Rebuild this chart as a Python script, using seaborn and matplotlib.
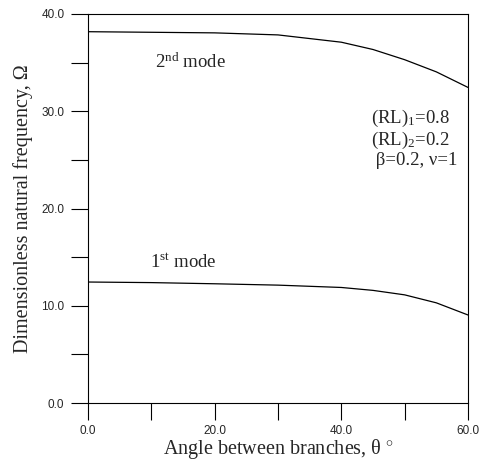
import matplotlib
matplotlib.use("Agg")
import matplotlib.pyplot as plt
import pandas as pd
import seaborn as sns
from matplotlib.ticker import MultipleLocator, FormatStrFormatter

# Data
angle = [0, 10, 20, 30, 40, 45, 50, 55, 60]
mode1 = [12.44, 12.38, 12.26, 12.12, 11.88, 11.58, 11.12, 10.3, 9.05]
mode2 = [38.18, 38.12, 38.06, 37.85, 37.1, 36.35, 35.3, 34.05, 32.45]

df = pd.DataFrame({"angle": angle * 2,
                   "omega": mode1 + mode2,
                   "mode": ["1st"] * len(angle) + ["2nd"] * len(angle)})

sns.set_theme(style="ticks")
plt.rcParams["font.family"] = ["Liberation Sans", "DejaVu Sans"]
plt.rcParams["mathtext.fontset"] = "custom"
plt.rcParams["mathtext.rm"] = "Liberation Serif"
plt.rcParams["mathtext.it"] = "Liberation Serif:italic"

fig = plt.figure(figsize=(4.8, 4.63), dpi=100)
ax = fig.add_axes([88 / 480, 60 / 463, 380 / 480, 389 / 463])

sns.lineplot(data=df, x="angle", y="omega", units="mode", estimator=None,
             color="black", linewidth=0.9, ax=ax, legend=False)

ax.set_xlim(0, 60)
ax.set_ylim(0, 40)
ax.xaxis.set_major_locator(MultipleLocator(20))
ax.xaxis.set_minor_locator(MultipleLocator(10))
ax.yaxis.set_major_locator(MultipleLocator(10))
ax.yaxis.set_minor_locator(MultipleLocator(5))
ax.xaxis.set_major_formatter(FormatStrFormatter("%.1f"))
ax.yaxis.set_major_formatter(FormatStrFormatter("%.1f"))
ax.tick_params(which="both", direction="out", length=12, width=0.8,
               labelsize=8.5, color="black")
ax.tick_params(axis="x", pad=4)
ax.tick_params(axis="y", pad=5)
for s in ax.spines.values():
    s.set_linewidth(0.8)
    s.set_color("black")

serif = ["Liberation Serif", "DejaVu Serif"]
ax.set_xlabel("Angle between branches, θ $^{\\circ}$", family=serif, fontsize=14.5, labelpad=0)
ax.set_ylabel("Dimensionless natural frequency, Ω", family=serif, fontsize=14.5, labelpad=6)

ax.text(0.176, 0.877, "2$^{\\rm nd}$ mode", transform=ax.transAxes, family=serif,
        fontsize=13.5, va="center")
ax.text(0.163, 0.362, "1$^{\\rm st}$ mode", transform=ax.transAxes, family=serif,
        fontsize=13.5, va="center")
ax.text(0.745, 0.68, "(RL)$_1$=0.8\n(RL)$_2$=0.2\n β=0.2, ν=1", transform=ax.transAxes,
        family=serif, fontsize=13.5, va="center", ha="left", linespacing=1.05)

plt.savefig("out.png", dpi=100)
